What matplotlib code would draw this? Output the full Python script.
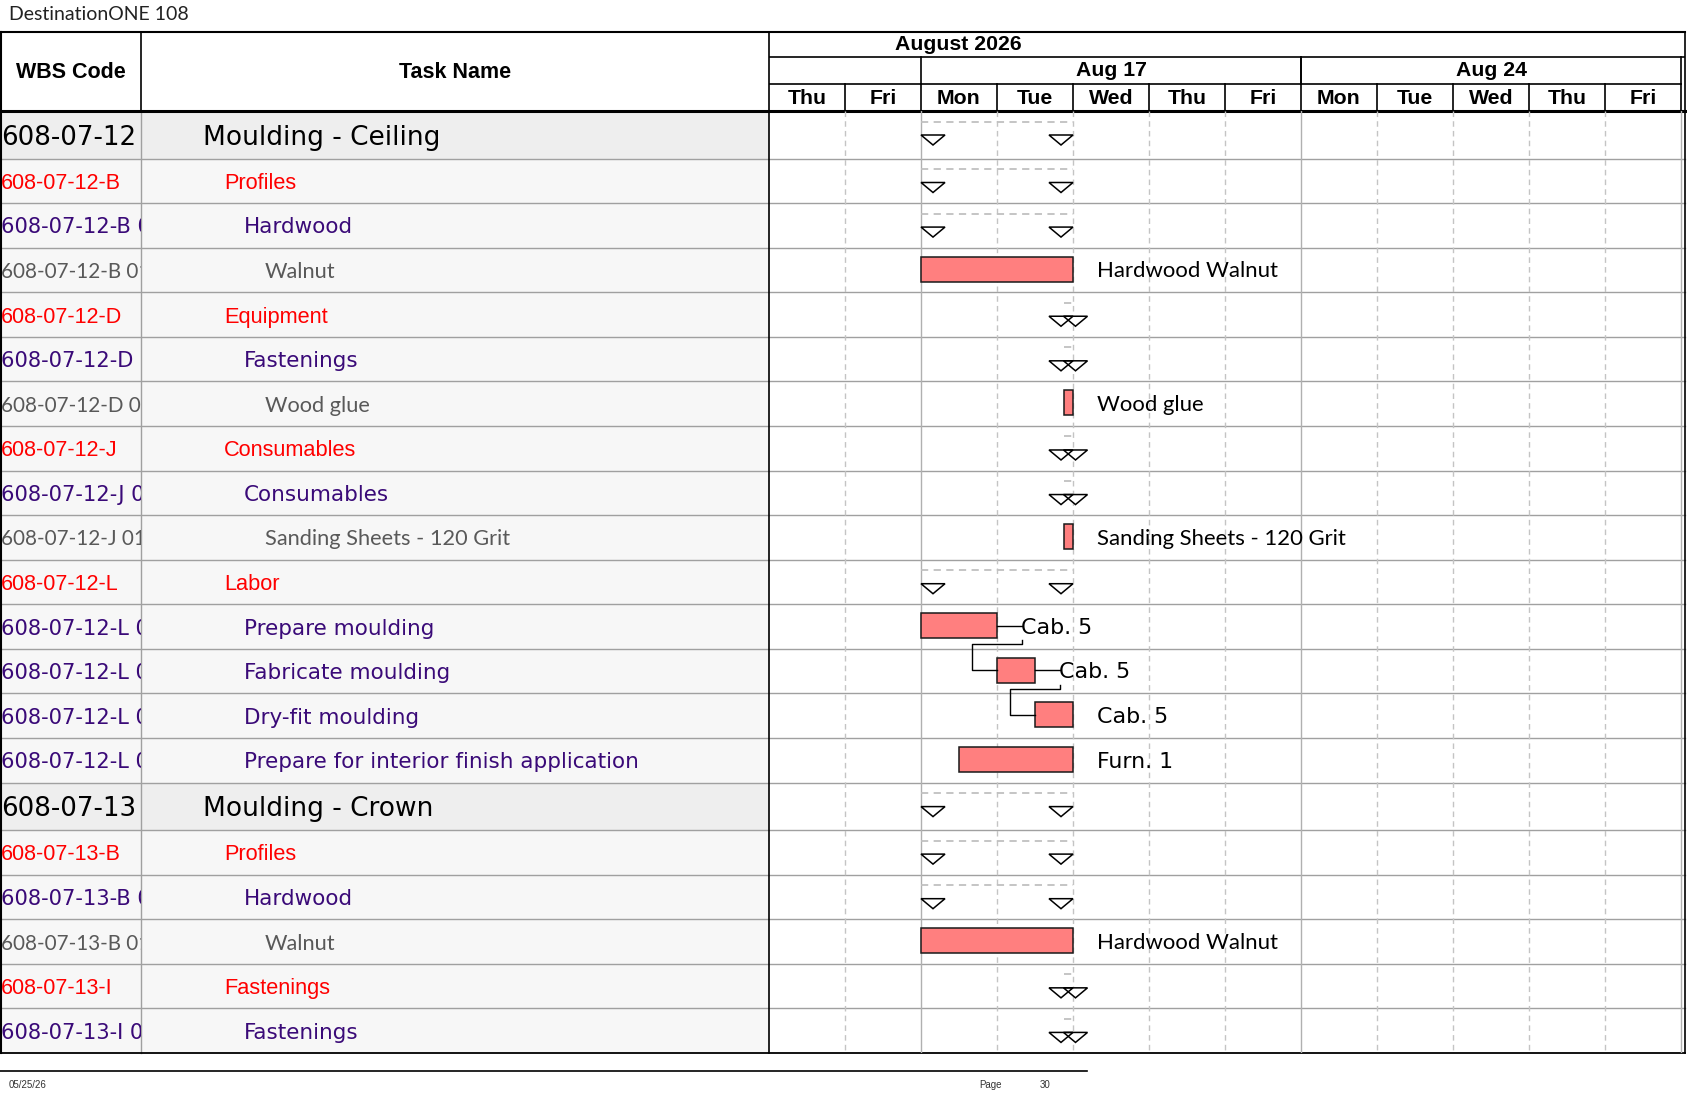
import matplotlib
matplotlib.use("Agg")
import matplotlib.pyplot as plt
from matplotlib.patches import Polygon, Rectangle

# ---------------- data ----------------
title = "DestinationONE 108"
month_label = "August 2026"
month_label_pos = 2.49          # working-day position of month caption
day_names = ["Thu", "Fri", "Mon", "Tue", "Wed", "Thu", "Fri",
             "Mon", "Tue", "Wed", "Thu", "Fri"]
week_labels = ["Aug 17", "Aug 24"]
week_starts = [2, 7]
week_len = 5

wbs_codes = ["608-07-12", "608-07-12-B", "608-07-12-B 01", "608-07-12-B 01 01",
             "608-07-12-D", "608-07-12-D 01", "608-07-12-D 01 01",
             "608-07-12-J", "608-07-12-J 01", "608-07-12-J 01 01",
             "608-07-12-L", "608-07-12-L 01", "608-07-12-L 02", "608-07-12-L 03",
             "608-07-12-L 04", "608-07-13", "608-07-13-B", "608-07-13-B 01",
             "608-07-13-B 01 01", "608-07-13-I", "608-07-13-I 01"]
task_names = ["Moulding - Ceiling", "Profiles", "Hardwood", "Walnut",
              "Equipment", "Fastenings", "Wood glue",
              "Consumables", "Consumables", "Sanding Sheets - 120 Grit",
              "Labor", "Prepare moulding", "Fabricate moulding", "Dry-fit moulding",
              "Prepare for interior finish application", "Moulding - Crown",
              "Profiles", "Hardwood", "Walnut", "Fastenings", "Fastenings"]
levels = [0, 1, 2, 3, 1, 2, 3, 1, 2, 3, 1, 2, 2, 2, 2, 0, 1, 2, 3, 1, 2]
is_summary = [1, 1, 1, 0, 1, 1, 0, 1, 1, 0, 1, 0, 0, 0, 0, 1, 1, 1, 0, 1, 1]
# start / finish in working days from Thu Aug 13
starts = [2, 2, 2, 2, 3.875, 3.875, 3.875, 3.875, 3.875, 3.875,
          2, 2, 3, 3.5, 2.5, 2, 2, 2, 2, 3.875, 3.875]
finishes = [4, 4, 4, 4, 4, 4, 4, 4, 4, 4,
            4, 3, 3.5, 4, 4, 4, 4, 4, 4, 4, 4]
bar_labels = ["", "", "", "Hardwood Walnut", "", "", "Wood glue",
              "", "", "Sanding Sheets - 120 Grit", "", "Cab. 5", "Cab. 5",
              "Cab. 5", "Furn. 1", "", "", "", "Hardwood Walnut", "", ""]
link_from = [11, 12]
link_to = [12, 13]
footer_date = "05/25/26"
page_label = "Page"
page_number = "30"

# ---------------- layout / style ----------------
W, H = 1687, 1097
TOP, HDR_BOT, BODY_BOT = 32, 111, 1053
COL_WBS, COL_GANTT, RIGHT = 141, 769, 1685
DAY_PX = 76.0
BODY_H = BODY_BOT - HDR_BOT
ROW_H0 = 47.5
n0 = sum(1 for l in levels if l == 0)
ROW_H = (BODY_H - n0 * ROW_H0) / (len(levels) - n0)
heights = [ROW_H0 if l == 0 else ROW_H for l in levels]
tops = []
acc = 0.0
for h in heights:
    tops.append(acc)
    acc += h

level_color = {0: "#000000", 1: "#ff0000", 2: "#3a0a78", 3: "#595959"}
name_font = {0: ("DejaVu Sans", 19), 1: ("Liberation Sans", 15.7),
             2: ("DejaVu Sans", 15.5), 3: ("Lato", 15.7)}
code_font = {0: ("DejaVu Sans", 18.8), 1: ("Liberation Sans", 15.5),
             2: ("DejaVu Sans", 15.1), 3: ("Lato", 14.9)}
indent = {0: 203, 1: 224, 2: 244, 3: 265}
GRID = "#a0a0a0"
BAR_COLOR = "#ff7f7f"

fig = plt.figure(figsize=(W / 100, H / 100), dpi=100)


def pix_axes(x0, y0, x1, y1, z=1):
    a = fig.add_axes([x0 / W, 1 - y1 / H, (x1 - x0) / W, (y1 - y0) / H], zorder=z)
    a.set_axis_off()
    a.patch.set_visible(False)
    return a


ax0 = fig.add_axes([0, 0, 1, 1], zorder=0)
ax0.set_xlim(0, W)
ax0.set_ylim(H, 0)
ax0.set_axis_off()

# row backgrounds of the table part
for t, h, l in zip(tops, heights, levels):
    ax0.add_patch(Rectangle((0, HDR_BOT + t), COL_GANTT, h,
                            facecolor="#eeeeee" if l == 0 else "#f7f7f7",
                            edgecolor="none", zorder=0))
# horizontal row lines
for t, h in zip(tops[:-1], heights[:-1]):
    ax0.plot([0, RIGHT], [HDR_BOT + t + h] * 2, color=GRID, lw=1, zorder=1)
# column lines and borders
ax0.plot([COL_WBS, COL_WBS], [HDR_BOT, BODY_BOT], color=GRID, lw=1, zorder=1)
ax0.plot([COL_WBS, COL_WBS], [TOP, HDR_BOT], color="black", lw=1.2, zorder=2)
ax0.plot([COL_GANTT, COL_GANTT], [TOP, BODY_BOT], color="black", lw=1.2, zorder=2)
ax0.plot([0.8, 0.8], [TOP, BODY_BOT], color="black", lw=1.5, zorder=2)
ax0.plot([RIGHT, RIGHT], [TOP, BODY_BOT], color="black", lw=1.2, zorder=2)
ax0.plot([0, RIGHT], [TOP, TOP], color="black", lw=1.5, zorder=2)
ax0.plot([0, RIGHT], [HDR_BOT, HDR_BOT], color="black", lw=2.2, zorder=2)
ax0.plot([0, RIGHT], [BODY_BOT, BODY_BOT], color="black", lw=1.3, zorder=2)

# header texts of the table part
ax0.text(COL_WBS / 2, (TOP + HDR_BOT) / 2 + 0.5, "WBS Code", ha="center", va="center",
         fontsize=15.5, fontweight="bold", family="Liberation Sans")
ax0.text((COL_WBS + COL_GANTT) / 2, (TOP + HDR_BOT) / 2 + 0.5, "Task Name",
         ha="center", va="center", fontsize=15.5, fontweight="bold",
         family="Liberation Sans")

# title and footer
ax0.text(9, 15, title, ha="left", va="center", fontsize=14, family="Lato",
         color="#222222")
ax0.plot([0, 1087], [1071, 1071], color="black", lw=1.2)
ax0.text(9, 1085, footer_date, ha="left", va="center", fontsize=7,
         family="Liberation Sans", color="#333333")
ax0.text(979, 1085, page_label, ha="left", va="center", fontsize=7,
         family="Liberation Sans", color="#333333")
ax0.text(1040, 1085, page_number, ha="left", va="center", fontsize=7,
         family="Liberation Sans", color="#333333")

# ---------------- table text ----------------
wbs_ax = pix_axes(1, HDR_BOT, COL_WBS, BODY_BOT)
wbs_ax.set_xlim(0, COL_WBS - 1)
wbs_ax.set_ylim(BODY_H, 0)
name_ax = pix_axes(COL_WBS, HDR_BOT, COL_GANTT, BODY_BOT)
name_ax.set_xlim(COL_WBS, COL_GANTT)
name_ax.set_ylim(BODY_H, 0)

for code, name, l, t, h in zip(wbs_codes, task_names, levels, tops, heights):
    yc = t + h / 2
    fam, fs = code_font[l]
    wbs_ax.text(0, yc, code, ha="left", va="center_baseline", fontsize=fs,
                family=fam, color=level_color[l], clip_on=True)
    fam, fs = name_font[l]
    name_ax.text(indent[l], yc, name, ha="left", va="center_baseline", fontsize=fs,
                 family=fam, color=level_color[l], clip_on=True)

# ---------------- timescale header ----------------
ndays = len(day_names)
xmax = (RIGHT - COL_GANTT) / DAY_PX
hdr = pix_axes(COL_GANTT, TOP, RIGHT, HDR_BOT, z=2)
hdr.set_xlim(0, xmax)
HH = HDR_BOT - TOP
hdr.set_ylim(HH, 0)
r1, r2 = 25, 52
hdr.plot([0, xmax], [r1, r1], color="black", lw=1.2)
hdr.plot([0, ndays], [r2, r2], color="black", lw=1.2)
hdr.text(month_label_pos, r1 / 2 + 0.5, month_label, ha="center", va="center",
         fontsize=15.3, fontweight="bold", family="Liberation Sans")
for ws, wl in zip(week_starts, week_labels):
    hdr.text(ws + week_len / 2, (r1 + r2) / 2 + 0.5, wl, ha="center", va="center",
             fontsize=15.3, fontweight="bold", family="Liberation Sans")
    hdr.plot([ws, ws], [r1, r2], color="black", lw=1.2)
    hdr.plot([ws + week_len] * 2, [r1, r2], color="black", lw=1.2)
for i, dn in enumerate(day_names):
    hdr.text(i + 0.5, (r2 + HH) / 2 + 0.5, dn, ha="center", va="center",
             fontsize=15.3, fontweight="bold", family="Liberation Sans")
    hdr.plot([i + 1, i + 1], [r2, HH], color="black", lw=1.2)

# ---------------- gantt body ----------------
g = pix_axes(COL_GANTT, HDR_BOT, RIGHT, BODY_BOT, z=2)
g.set_xlim(0, xmax)
g.set_ylim(BODY_H, 0)

mondays = [i for i, d in enumerate(day_names) if d == "Mon"] + [ndays]
for d in range(1, ndays + 1):
    if d in mondays:
        g.plot([d, d], [0, BODY_H], color="#b0b0b0", lw=1, zorder=1)
    else:
        g.plot([d, d], [0, BODY_H], color="#c4c4c4", lw=1, zorder=1,
               dashes=(4, 3))

px = 1.0 / DAY_PX
TRI_W, TRI_TOP, TRI_BOT = 24 * px, 24, 34
BAR_TOP, BAR_H = 9, 25
for i, (s, f, t, summ) in enumerate(zip(starts, finishes, tops, is_summary)):
    if summ:
        g.plot([s, f], [t + 10.5, t + 10.5], color="#c0c0c0", lw=1.3,
               dashes=(4, 3), zorder=2)
        tri_a = [(s, t + TRI_TOP), (s + TRI_W, t + TRI_TOP), (s + TRI_W / 2, t + TRI_BOT)]
        tri_b = [(f - TRI_W, t + TRI_TOP), (f, t + TRI_TOP), (f - TRI_W / 2, t + TRI_BOT)]
        for tri in (tri_a, tri_b):
            g.add_patch(Polygon(tri, closed=True, facecolor="white",
                                edgecolor="none", zorder=3))
        for tri in (tri_a, tri_b):
            g.add_patch(Polygon(tri, closed=True, fill=False,
                                edgecolor="black", lw=1.1, zorder=4))

bar_idx = [i for i in range(len(levels)) if not is_summary[i]]
g.barh([tops[i] + BAR_TOP + BAR_H / 2 for i in bar_idx],
       [finishes[i] - starts[i] for i in bar_idx],
       left=[starts[i] for i in bar_idx], height=BAR_H,
       color=BAR_COLOR, edgecolor="#1a1a1a", lw=1.1, zorder=3)
for i in bar_idx:
    if bar_labels[i]:
        fam, fs = ("Lato", 15.9) if levels[i] == 3 else ("DejaVu Sans", 15.9)
        g.text(finishes[i] + 24 * px, tops[i] + BAR_TOP + BAR_H / 2, bar_labels[i],
               ha="left", va="center_baseline", fontsize=fs, family=fam,
               color="black", zorder=5)

# dependency links
OFF = 25 * px
for p, sc in zip(link_from, link_to):
    ymid_p = tops[p] + BAR_TOP + BAR_H / 2
    ybot_p = tops[p] + BAR_TOP + BAR_H
    yl = ybot_p + 6
    ymid_s = tops[sc] + BAR_TOP + BAR_H / 2
    xe = finishes[p]
    xs = starts[sc]
    g.plot([xe, xe + OFF], [ymid_p, ymid_p], color="black", lw=1, zorder=4)
    g.plot([xe + OFF, xe + OFF, xs - OFF, xs - OFF, xs],
           [ybot_p + 2, yl, yl, ymid_s, ymid_s], color="black", lw=1, zorder=4)

fig.savefig("out.png", dpi=100, facecolor="white")
